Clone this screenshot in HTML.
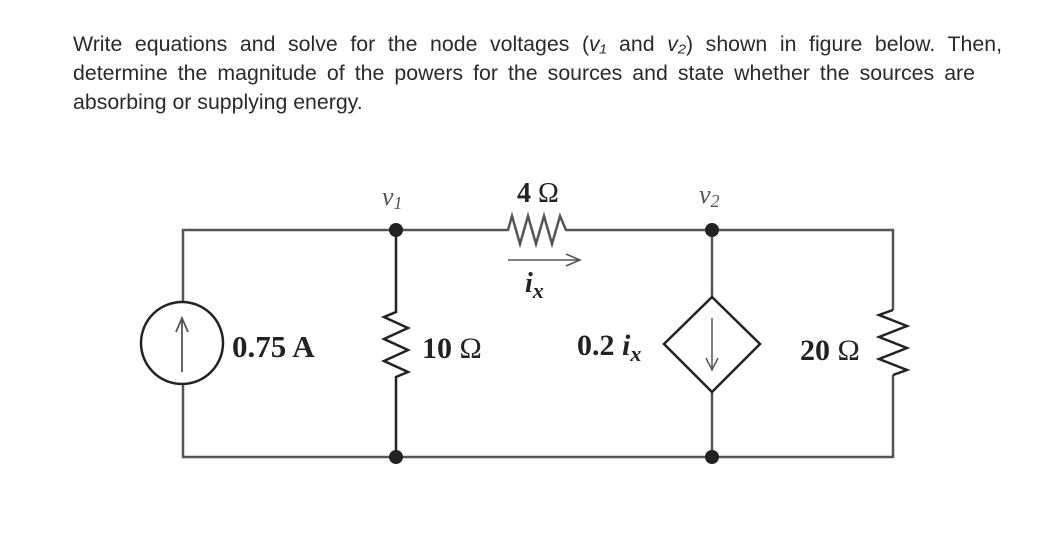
<!DOCTYPE html>
<html><head><meta charset="utf-8"><style>
body{margin:0;width:1053px;height:543px;background:#fff;overflow:hidden;position:relative}
.l{position:absolute;left:73px;font-family:"Liberation Sans",sans-serif;font-size:21.3px;line-height:29px;color:#2a2a2a;text-align:justify;text-align-last:justify;white-space:nowrap}
svg{position:absolute;left:0;top:0}
</style></head><body>
<div class="l" style="top:30px;width:929px">Write equations and solve for the node voltages (<i>v₁</i> and <i>v₂</i>) shown in figure below. Then,</div>
<div class="l" style="top:59px;width:902px">determine the magnitude of the powers for the sources and state whether the sources are</div>
<div class="l" style="top:88px;text-align-last:left">absorbing or supplying energy.</div>
<svg width="1053" height="543" viewBox="0 0 1053 543">
<g fill="none" stroke="#555" stroke-width="2.5">
<path d="M183 302 V230 H508 l4 -14 l8 28 l8 -28 l8 28 l8 -28 l8 28 l8 -28 l6 14 H893 V310"/>
<path d="M183 384 V457 H893 V375"/>
<path d="M396 230 V312 l-12 5 l24 11 l-24 11 l24 11 l-24 11 l24 11 l-12 5 V457" stroke="#222"/>
<path d="M893 310 l-14 5 l28 11 l-28 11 l28 11 l-28 11 l28 11 l-14 5"  stroke="#222"/>
<path d="M712 230 V297 M712 392 V457"/>
<path d="M712 297 L760 344 L712 392 L664 344 Z" stroke="#222"/>
<path d="M712 318 V368 M706 358 L712 370 L718 358" stroke-width="1.5"/>
<circle cx="182" cy="343" r="41" stroke="#222"/>
<path d="M182 372 V320 M176 332 L182 318 L188 332" stroke-width="1.8"/>
<path d="M508 260 H578 M566 254 L580 260 L566 266" stroke-width="1.5"/>
</g>
<g fill="#222"><circle cx="396" cy="230" r="7"/><circle cx="396" cy="457" r="7"/><circle cx="712" cy="230" r="7"/><circle cx="712" cy="457" r="7"/></g>
<g font-family="Liberation Serif,serif" fill="#222">
<text x="232" y="357" font-size="31" font-weight="bold">0.75 A</text>
<text x="422" y="358" font-size="30" font-weight="bold">10 <tspan font-weight="normal">Ω</tspan></text>
<text x="800" y="360" font-size="30" font-weight="bold">20 <tspan font-weight="normal">Ω</tspan></text>
<text x="577" y="355" font-size="30" font-weight="bold">0.2 <tspan font-style="italic">i<tspan font-size="22" dy="6">x</tspan></tspan></text>
<text x="517" y="202" font-size="28" font-weight="bold">4 <tspan font-weight="normal">Ω</tspan></text>
<text x="525" y="292" font-size="28" font-weight="bold" font-style="italic">i<tspan font-size="22" dy="6">x</tspan></text>
<text x="382" y="205" font-size="26" font-style="italic" fill="#555">v<tspan font-size="18" dy="4">1</tspan></text>
<text x="699" y="203" font-size="26" font-style="italic" fill="#555">v<tspan font-size="18" dy="4">2</tspan></text>
</g>
</svg>
</body></html>
